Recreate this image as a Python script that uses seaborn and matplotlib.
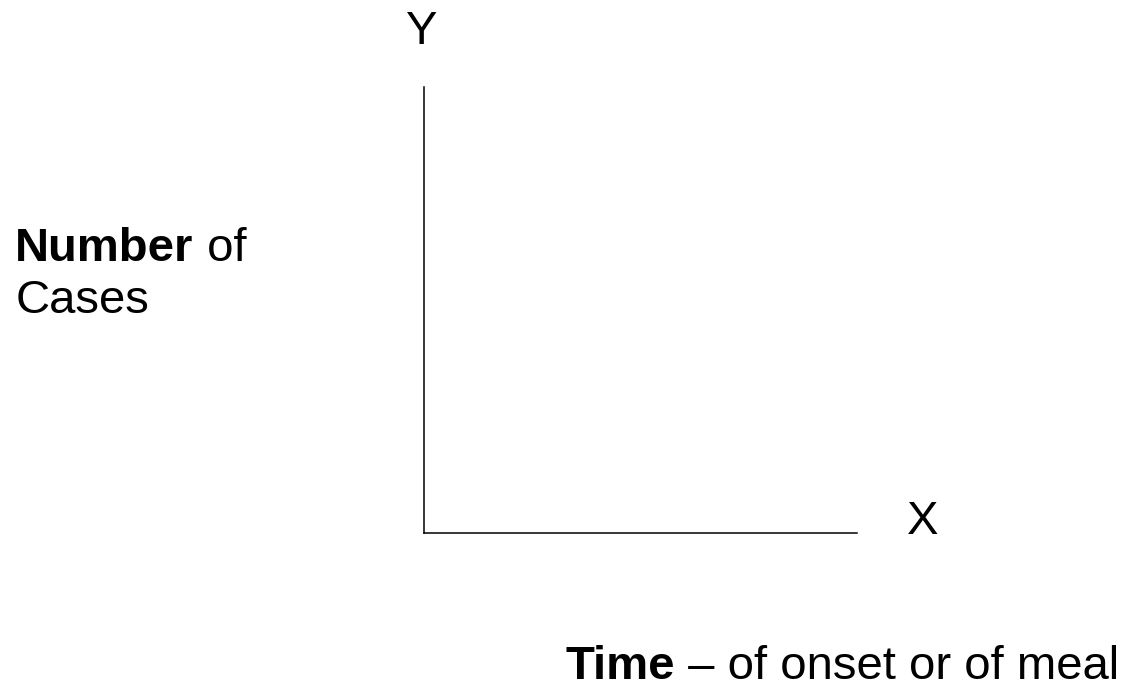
import matplotlib.pyplot as plt
import seaborn as sns

# labels of the diagram (no data series, just the empty axes)
y_axis_letter = "Y"
x_axis_letter = "X"
y_label_bold = ["Number", ""]
y_label_rest = [" of", "Cases"]
x_label_bold = "Time"
x_label_rest = " \u2013 of onset or of meal"
x_limits = [0, 1]
y_limits = [0, 1]

sns.set_theme(style="white")
plt.rcParams['font.family'] = ['Liberation Sans', 'DejaVu Sans']
plt.rcParams['text.color'] = 'black'

fig = plt.figure(figsize=(11.34, 6.88), dpi=100)
ax = fig.add_axes([0.374, 0.2253, 0.3817, 0.6482])
ax.set_xlim(x_limits)
ax.set_ylim(y_limits)
ax.set_xticks([])
ax.set_yticks([])
sns.despine(ax=ax)
for s in ["left", "bottom"]:
    ax.spines[s].set_color("black")
    ax.spines[s].set_linewidth(1.1)

fs = 34
fig.text(0.372, 0.936, y_axis_letter, fontsize=fs, ha="center", va="baseline")
fig.text(0.80, 0.224, x_axis_letter, fontsize=fs, ha="left", va="baseline")


def two_part(x, y, bold, rest):
    t = fig.text(x, y, bold, fontsize=fs, fontweight="bold", ha="left", va="baseline")
    if bold:
        ax.annotate(rest, xy=(1, 0), xycoords=t, fontsize=fs, ha="left", va="bottom",
                    annotation_clip=False)
    else:
        fig.text(x, y, rest, fontsize=fs, ha="left", va="baseline")


two_part(0.0135, 0.6207, y_label_bold[0], y_label_rest[0])
two_part(0.0135, 0.545, y_label_bold[1], y_label_rest[1])
two_part(0.499, 0.0135, x_label_bold, x_label_rest)

fig.savefig("out.png", dpi=100)
